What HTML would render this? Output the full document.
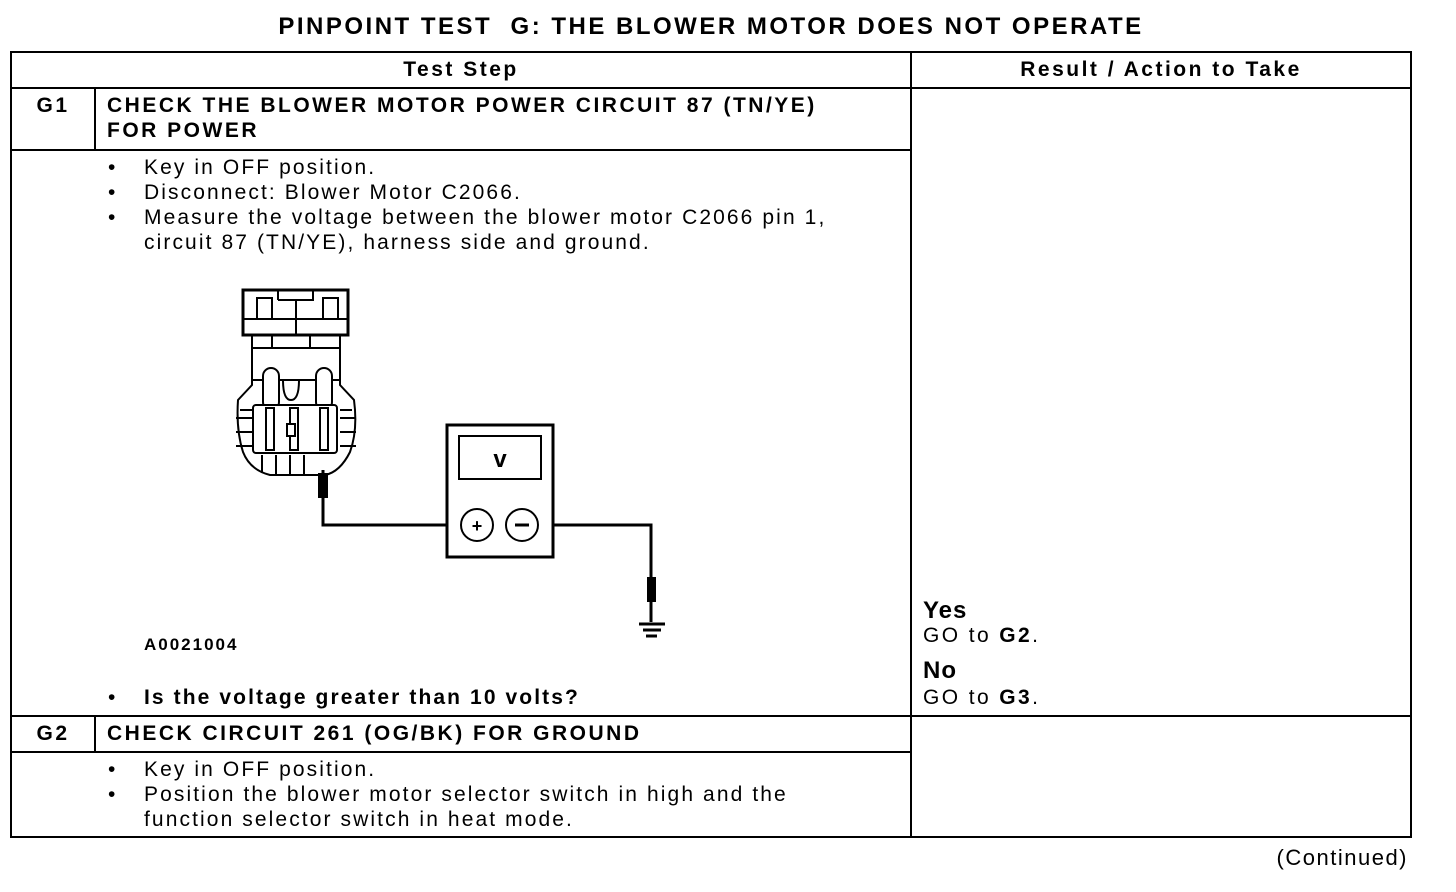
<!DOCTYPE html>
<html><head><meta charset="utf-8"><style>
body{margin:0;width:1456px;height:892px;background:#fff;position:relative;overflow:hidden;font-family:"Liberation Sans",Arial,sans-serif;color:#000}
.t{position:absolute;white-space:nowrap;line-height:25px}
.b{font-weight:bold}
.n{font-size:21px;letter-spacing:2.1px}
.h{font-size:21px;font-weight:bold;line-height:25px;letter-spacing:2.5px}
</style></head><body>
<svg width="1456" height="892" style="position:absolute;left:0;top:0">
<g stroke="#000" stroke-width="2" fill="none">
<rect x="11" y="52" width="1400" height="785"/>
<line x1="11" y1="88" x2="1411" y2="88"/>
<line x1="911" y1="52" x2="911" y2="837"/>
<line x1="95" y1="88" x2="95" y2="150"/>
<line x1="11" y1="150" x2="911" y2="150"/>
<line x1="11" y1="716" x2="1411" y2="716"/>
<line x1="95" y1="716" x2="95" y2="752"/>
<line x1="11" y1="752" x2="911" y2="752"/>
</g>
<g stroke="#000" stroke-width="2" fill="#fff">
<path d="M243 452 Q236 430 238 400 L252 385 L252 335 L340 335 L340 385 L354 400 Q358 430 350 452 Q340 472 325 475 L270 475 Q250 470 243 452 Z"/>
<rect x="243" y="290" width="105" height="45" stroke-width="3"/>
<path d="M278 300 L278 290 M278 300 L313 300 L313 290" fill="none"/>
<line x1="296" y1="300" x2="296" y2="335"/>
<line x1="243" y1="319" x2="348" y2="319"/>
<rect x="257" y="298" width="15" height="21"/>
<rect x="323" y="298" width="15" height="21"/>
<line x1="252" y1="348" x2="340" y2="348"/>
<line x1="272" y1="335" x2="272" y2="348"/><line x1="310" y1="335" x2="310" y2="348"/>
<line x1="252" y1="380" x2="340" y2="380"/>
<rect x="263" y="368" width="16" height="42" rx="8"/>
<rect x="316" y="368" width="16" height="42" rx="8"/>
<path d="M283 380 Q283 400 291 400 Q299 400 299 380" fill="none"/>
<rect x="253" y="405" width="84" height="48" rx="3"/>
<rect x="266" y="408" width="8" height="42"/>
<rect x="290" y="408" width="8" height="42"/>
<rect x="320" y="408" width="8" height="42"/>
<rect x="287" y="424" width="8" height="12"/>
<path d="M240 410 h12 M236 418 h16 M236 432 h16 M236 446 h16 M340 410 h12 M340 418 h16 M340 432 h16 M340 446 h16" fill="none"/>
<path d="M262 455 v18 M276 455 v20 M290 455 v20 M304 455 v20" fill="none"/>
</g>
<rect x="318" y="473" width="10" height="25" fill="#000"/>
<polyline points="323,470 323,525 461,525" stroke="#000" stroke-width="3" fill="none"/>
<polyline points="538,525 651,525 651,580" stroke="#000" stroke-width="3" fill="none"/>
<rect x="647" y="577" width="9" height="25" fill="#000"/>
<line x1="651" y1="600" x2="651" y2="622" stroke="#000" stroke-width="3"/>
<line x1="639" y1="624" x2="665" y2="624" stroke="#000" stroke-width="3"/>
<line x1="643" y1="630" x2="661" y2="630" stroke="#000" stroke-width="3"/>
<line x1="646" y1="636" x2="657" y2="636" stroke="#000" stroke-width="3"/>
<rect x="447" y="425" width="106" height="132" fill="#fff" stroke="#000" stroke-width="3"/>
<rect x="459" y="436" width="82" height="43" fill="#fff" stroke="#000" stroke-width="2"/>
<text x="500" y="467" font-family="Liberation Sans" font-size="24" font-weight="bold" text-anchor="middle">v</text>
<circle cx="477" cy="525" r="16" fill="#fff" stroke="#000" stroke-width="2"/>
<circle cx="522" cy="525" r="16" fill="#fff" stroke="#000" stroke-width="2"/>
<text x="477" y="532" font-family="Liberation Sans" font-size="18" font-weight="bold" text-anchor="middle">+</text>
<line x1="515" y1="525" x2="529" y2="525" stroke="#000" stroke-width="3"/>
</svg>
<div class="t b" style="left:0;width:1422px;text-align:center;top:13px;font-size:24px;line-height:28px;letter-spacing:2.5px">PINPOINT TEST&nbsp; G: THE BLOWER MOTOR DOES NOT OPERATE</div>
<div class="t h" style="left:11px;width:900px;text-align:center;top:57px">Test Step</div>
<div class="t h" style="left:911px;width:500px;text-align:center;top:57px">Result / Action to Take</div>
<div class="t h" style="left:11px;width:84px;text-align:center;top:93px">G1</div>
<div class="t h" style="left:107px;top:93px">CHECK THE BLOWER MOTOR POWER CIRCUIT 87 (TN/YE)<br>FOR POWER</div>
<div class="t n" style="left:108px;top:155px">•<br>•<br>•</div>
<div class="t n" style="left:144px;top:155px">Key in OFF position.<br>Disconnect: Blower Motor C2066.<br>Measure the voltage between the blower motor C2066 pin 1,<br>circuit 87 (TN/YE), harness side and ground.</div>
<div class="t b" style="left:144px;top:632px;font-size:17px;letter-spacing:2px">A0021004</div>
<div class="t n" style="left:108px;top:685px">•</div>
<div class="t n b" style="left:144px;top:685px">Is the voltage greater than 10 volts?</div>
<div class="t b" style="left:923px;top:598px;font-size:24px;letter-spacing:1px">Yes</div>
<div class="t n" style="left:923px;top:623px;letter-spacing:2.4px">GO to <b>G2</b>.</div>
<div class="t b" style="left:923px;top:658px;font-size:24px;letter-spacing:1px">No</div>
<div class="t n" style="left:923px;top:685px;letter-spacing:2.4px">GO to <b>G3</b>.</div>
<div class="t h" style="left:11px;width:84px;text-align:center;top:721px">G2</div>
<div class="t h" style="left:107px;top:721px">CHECK CIRCUIT 261 (OG/BK) FOR GROUND</div>
<div class="t n" style="left:108px;top:757px">•<br>•</div>
<div class="t n" style="left:144px;top:757px">Key in OFF position.<br>Position the blower motor selector switch in high and the<br>function selector switch in heat mode.</div>
<div class="t n" style="right:48px;top:845px;font-size:22px;letter-spacing:1.5px">(Continued)</div>
</body></html>
